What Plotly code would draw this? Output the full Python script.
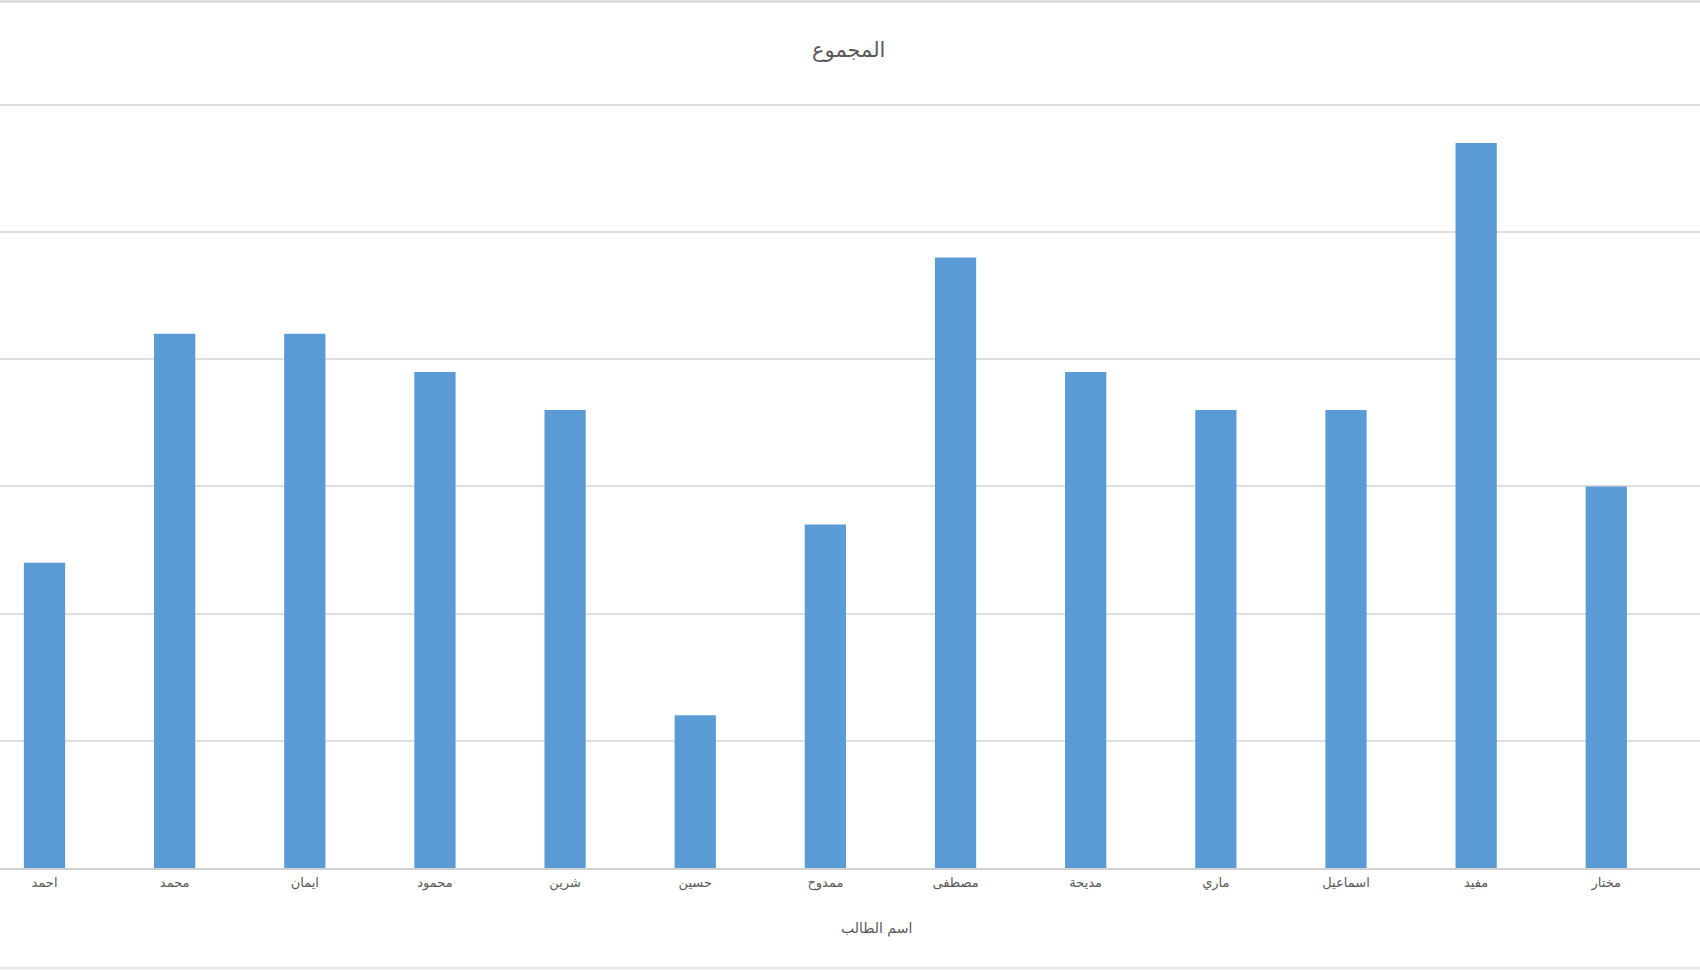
import plotly.graph_objects as go

students = ["احمد", "محمد", "ايمان", "محمود", "شرين", "حسين", "ممدوح",
            "مصطفى", "مديحة", "ماري", "اسماعيل", "مفيد", "مختار"]
totals = [24, 42, 42, 39, 36, 12, 27, 48, 39, 36, 36, 57, 30]

chart_title = "المجموع"
x_title = "اسم الطالب"

W, H = 1700, 970
T, B = 101, 102
PH = H - T - B
BASE = H - B


def py(px):
    """pixel row -> paper y"""
    return (BASE - px) / PH


fig = go.Figure()
fig.add_trace(go.Bar(
    x=students, y=totals,
    marker=dict(color="#5b9bd5", line=dict(width=0)),
    width=0.317,
))

font_family = "DejaVu Sans, Noto Sans, sans-serif"

fig.update_layout(
    width=W, height=H,
    margin=dict(l=0, r=0, t=T, b=B, autoexpand=False),
    paper_bgcolor="white", plot_bgcolor="white",
    showlegend=False,
    xaxis=dict(
        range=[-0.342, 12.72],
        showgrid=False,
        showline=True, linecolor="#d0d0d0", linewidth=1.5,
        ticks="", tickfont=dict(size=13, color="#595959", family=font_family),
        ticklabelstandoff=2,
        fixedrange=True,
    ),
    yaxis=dict(
        range=[0, 60.3], dtick=10,
        showgrid=True, gridcolor="#dedede", gridwidth=1.5,
        showticklabels=False, zeroline=False, showline=False,
        fixedrange=True,
    ),
    annotations=[
        dict(text=chart_title, xref="paper", yref="paper", x=848 / W, y=py(50),
             showarrow=False, xanchor="center", yanchor="middle",
             font=dict(size=21, color="#595959", family=font_family)),
        dict(text=x_title, xref="paper", yref="paper", x=876 / W, y=py(929),
             showarrow=False, xanchor="center", yanchor="middle",
             font=dict(size=14, color="#595959", family=font_family)),
    ],
    shapes=[
        dict(type="line", xref="paper", yref="paper", x0=0, x1=1, y0=py(1.5), y1=py(1.5),
             line=dict(color="#d9d9d9", width=2.5)),
        dict(type="line", xref="paper", yref="paper", x0=0, x1=1, y0=py(968), y1=py(968),
             line=dict(color="#e6e6e6", width=2.5)),
    ],
)

fig.write_html("out.html", config={"displayModeBar": False},
               post_script="document.body.style.margin='0';document.body.style.padding='0';")
